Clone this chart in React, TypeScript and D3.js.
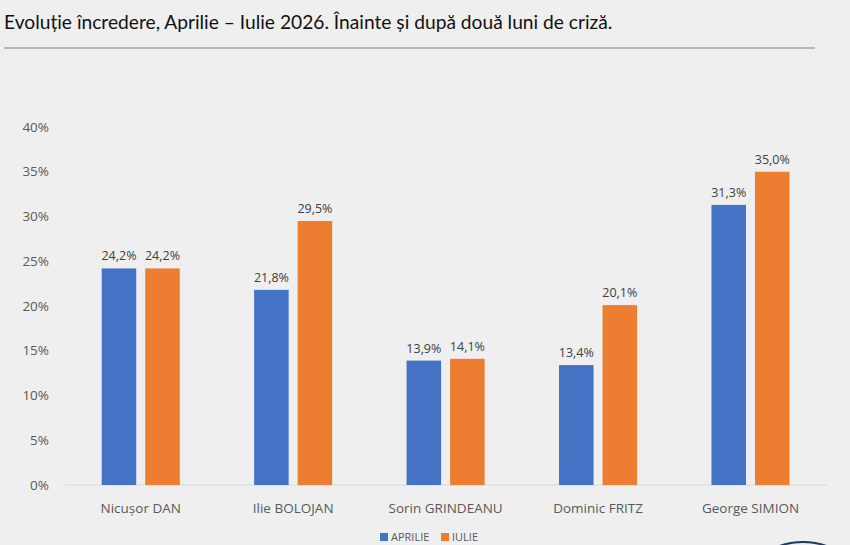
import { scaleBand, scaleLinear } from 'd3';

const categories = ['Nicușor DAN', 'Ilie BOLOJAN', 'Sorin GRINDEANU', 'Dominic FRITZ', 'George SIMION'];
const seriesNames = ['APRILIE', 'IULIE'];
const aprilie = [24.2, 21.8, 13.9, 13.4, 31.3];
const iulie = [24.2, 29.5, 14.1, 20.1, 35.0];
const yTicks = [0, 5, 10, 15, 20, 25, 30, 35, 40];
const seriesColors = ['#4472c4', '#ed7d31'];

const title = 'Evoluție încredere, Aprilie – Iulie 2026. Înainte și după două luni de criză.';

const W = 850;
const H = 545;

const fmt = (v: number) => `${v.toFixed(1).replace('.', ',')}%`;

export default function App() {
  const x0 = scaleBand<string>().domain(categories).range([64.5, 826.7]).paddingInner(0.488).paddingOuter(0.244);
  const x1 = scaleBand<string>().domain(seriesNames).range([0, x0.bandwidth()]).paddingInner(0.207);
  const y = scaleLinear().domain([0, 40]).range([485, 127]);
  const series = [aprilie, iulie];
  const font = '"Open Sans", "Noto Sans", sans-serif';

  return (
    <svg
      width={W}
      height={H}
      style={{ position: 'absolute', left: 0, top: 0, fontFamily: font }}
    >
      <rect width={W} height={H} fill="#efefef" />
      <text x={4} y={29} fontSize={19.2} fill="#111" fontFamily='Lato, "Open Sans", sans-serif'>
        {title}
      </text>
      <line x1={4} x2={815} y1={48} y2={48} stroke="#a6a6a6" strokeWidth={1.5} />

      {yTicks.map((t) => (
        <text key={t} x={49} y={y(t)} dy="0.35em" textAnchor="end" fontSize={13.5} fill="#595959">
          {t}%
        </text>
      ))}

      <line x1={64.5} x2={826.7} y1={y(0)} y2={y(0)} stroke="#d9d9d9" strokeWidth={1} />

      {categories.map((c, i) => (
        <g key={c} transform={`translate(${x0(c)},0)`}>
          {seriesNames.map((s, j) => {
            const v = series[j][i];
            const bx = x1(s) ?? 0;
            return (
              <g key={s}>
                <rect x={bx} y={y(v)} width={x1.bandwidth()} height={y(0) - y(v)} fill={seriesColors[j]} />
                <text
                  x={bx + x1.bandwidth() / 2}
                  y={y(v) - 8}
                  textAnchor="middle"
                  fontSize={12.5}
                  fill="#404040"
                >
                  {fmt(v)}
                </text>
              </g>
            );
          })}
          <text x={x0.bandwidth() / 2} y={513} textAnchor="middle" fontSize={13.5} fill="#595959">
            {c}
          </text>
        </g>
      ))}

      <g transform="translate(380,537)">
        {seriesNames.map((s, j) => {
          const lx = j === 0 ? 0 : 61;
          return (
            <g key={s} transform={`translate(${lx},0)`}>
              <rect x={0} y={-4} width={8} height={8} fill={seriesColors[j]} />
              <text x={11} y={0} dy="0.35em" fontSize={11} fill="#595959">
                {s}
              </text>
            </g>
          );
        })}
      </g>

      <circle cx={803} cy={610} r={68} fill="none" stroke="#1f3864" strokeWidth={2} />
    </svg>
  );
}
